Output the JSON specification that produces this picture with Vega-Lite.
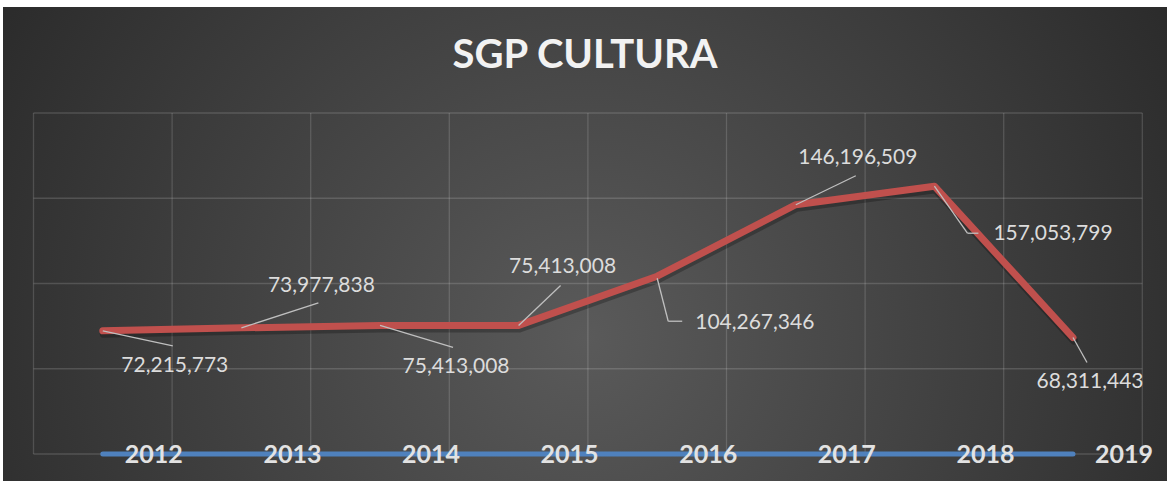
{
  "$schema": "https://vega.github.io/schema/vega-lite/v6.json",
  "width": 1164,
  "height": 474,
  "autosize": {"type": "none"},
  "padding": {"left": 3, "top": 7, "right": 0, "bottom": 0},
  "background": "#ffffff",
  "config": {"view": {"stroke": null}},
  "title": {"text": "SGP CULTURA", "font": "Lato", "fontSize": 40, "fontWeight": "bold", "color": "#f2f2f2", "anchor": "middle", "offset": -69},
  "datasets": {
    "main": [
      {"year": 2012, "value": 72215773},
      {"year": 2013, "value": 73977838},
      {"year": 2014, "value": 75413008},
      {"year": 2015, "value": 75413008},
      {"year": 2016, "value": 104267346},
      {"year": 2017, "value": 146196509},
      {"year": 2018, "value": 157053799},
      {"year": 2019, "value": 68311443}
    ],
    "hgrid": [{"v": 0}, {"v": 50000000}, {"v": 100000000}, {"v": 150000000}, {"v": 200000000}],
    "vgrid": [{"g": 2011.5}, {"g": 2012.5}, {"g": 2013.5}, {"g": 2014.5}, {"g": 2015.5}, {"g": 2016.5}, {"g": 2017.5}, {"g": 2018.5}, {"g": 2019.5}],
    "bg": [{"k": 1}]
  },
  "layer": [
    {
      "data": {"name": "bg"},
      "mark": {"type": "rect", "fill": {"gradient": "radial", "x1": 0.5, "y1": 0.58, "r1": 0, "x2": 0.5, "y2": 0.58, "r2": 0.64, "stops": [{"offset": 0, "color": "#5a5a5a"}, {"offset": 1, "color": "#262626"}]}},
      "encoding": {"x": {"value": 0}, "x2": {"value": "width"}, "y": {"value": 0}, "y2": {"value": "height"}}
    },
    {
      "data": {"name": "vgrid"},
      "mark": {"type": "rule", "stroke": "#ffffff", "strokeOpacity": 0.15, "strokeWidth": 1.3},
      "encoding": {
        "x": {"field": "g", "type": "quantitative", "scale": {"domain": [2011.2799, 2019.6782], "nice": false, "zero": false}, "axis": null},
        "y": {"datum": 0, "type": "quantitative", "scale": {"domain": [-15835777, 262170088], "nice": false, "zero": false}, "axis": null},
        "y2": {"datum": 200000000}
      }
    },
    {
      "data": {"name": "hgrid"},
      "mark": {"type": "rule", "stroke": "#ffffff", "strokeOpacity": 0.15, "strokeWidth": 1.3},
      "encoding": {
        "y": {"field": "v", "type": "quantitative", "scale": {"domain": [-15835777, 262170088], "nice": false, "zero": false}, "axis": null},
        "x": {"datum": 2011.5, "type": "quantitative", "scale": {"domain": [2011.2799, 2019.6782], "nice": false, "zero": false}, "axis": null},
        "x2": {"datum": 2019.5}
      }
    },
    {
      "data": {"name": "main"},
      "layer": [
        {
          "mark": {"type": "line", "stroke": "#4f81bd", "strokeWidth": 5, "strokeCap": "round"},
          "encoding": {
            "x": {"field": "year", "type": "quantitative", "scale": {"domain": [2011.2799, 2019.6782], "nice": false, "zero": false}, "axis": null},
            "y": {"datum": 0, "type": "quantitative", "scale": {"domain": [-15835777, 262170088], "nice": false, "zero": false}, "axis": null}
          }
        },
        {
          "mark": {"type": "line", "stroke": "#000000", "strokeOpacity": 0.25, "strokeWidth": 8, "strokeCap": "round", "strokeJoin": "round", "xOffset": 1, "yOffset": 3},
          "encoding": {
            "x": {"field": "year", "type": "quantitative", "scale": {"domain": [2011.2799, 2019.6782], "nice": false, "zero": false}, "axis": null},
            "y": {"field": "value", "type": "quantitative", "scale": {"domain": [-15835777, 262170088], "nice": false, "zero": false}, "axis": null}
          }
        },
        {
          "mark": {"type": "line", "stroke": "#c0504d", "strokeWidth": 7, "strokeCap": "round", "strokeJoin": "round"},
          "encoding": {
            "x": {"field": "year", "type": "quantitative", "scale": {"domain": [2011.2799, 2019.6782], "nice": false, "zero": false}, "axis": null},
            "y": {"field": "value", "type": "quantitative", "scale": {"domain": [-15835777, 262170088], "nice": false, "zero": false}, "axis": null}
          }
        },
        {
          "mark": {"type": "text", "font": "Lato", "fontSize": 25, "fontWeight": "bold", "fill": "#e2e2e2", "align": "center", "baseline": "middle", "dx": 51, "dy": 1},
          "encoding": {
            "x": {"field": "year", "type": "quantitative", "scale": {"domain": [2011.2799, 2019.6782], "nice": false, "zero": false}, "axis": null},
            "y": {"datum": 0, "type": "quantitative", "scale": {"domain": [-15835777, 262170088], "nice": false, "zero": false}, "axis": null},
            "text": {"field": "year", "type": "nominal"}
          }
        },
        {
          "transform": [{"filter": "datum.year == 2012"}],
          "encoding": {
            "x": {"field": "year", "type": "quantitative", "scale": {"domain": [2011.2799, 2019.6782], "nice": false, "zero": false}, "axis": null},
            "y": {"field": "value", "type": "quantitative", "scale": {"domain": [-15835777, 262170088], "nice": false, "zero": false}, "axis": null}
          },
          "layer": [
            {"mark": {"type": "rule", "stroke": "#bfbfbf", "strokeWidth": 1.3, "x2Offset": 70, "y2Offset": 15}, "encoding": {"x2": {"field": "year"}, "y2": {"field": "value"}}},
            {"mark": {"type": "text", "font": "Lato", "fontSize": 21, "fill": "#dcdcdc", "align": "center", "baseline": "middle", "dx": 72, "dy": 35}, "encoding": {"text": {"field": "value", "type": "quantitative", "format": ","}}}
          ]
        },
        {
          "transform": [{"filter": "datum.year == 2013"}],
          "encoding": {
            "x": {"field": "year", "type": "quantitative", "scale": {"domain": [2011.2799, 2019.6782], "nice": false, "zero": false}, "axis": null},
            "y": {"field": "value", "type": "quantitative", "scale": {"domain": [-15835777, 262170088], "nice": false, "zero": false}, "axis": null}
          },
          "layer": [
            {"mark": {"type": "rule", "stroke": "#bfbfbf", "strokeWidth": 1.3, "x2Offset": 77, "y2Offset": -25}, "encoding": {"x2": {"field": "year"}, "y2": {"field": "value"}}},
            {"mark": {"type": "text", "font": "Lato", "fontSize": 21, "fill": "#dcdcdc", "align": "center", "baseline": "middle", "dx": 80, "dy": -42}, "encoding": {"text": {"field": "value", "type": "quantitative", "format": ","}}}
          ]
        },
        {
          "transform": [{"filter": "datum.year == 2014"}],
          "encoding": {
            "x": {"field": "year", "type": "quantitative", "scale": {"domain": [2011.2799, 2019.6782], "nice": false, "zero": false}, "axis": null},
            "y": {"field": "value", "type": "quantitative", "scale": {"domain": [-15835777, 262170088], "nice": false, "zero": false}, "axis": null}
          },
          "layer": [
            {"mark": {"type": "rule", "stroke": "#bfbfbf", "strokeWidth": 1.3, "x2Offset": 73, "y2Offset": 22}, "encoding": {"x2": {"field": "year"}, "y2": {"field": "value"}}},
            {"mark": {"type": "text", "font": "Lato", "fontSize": 21, "fill": "#dcdcdc", "align": "center", "baseline": "middle", "dx": 76, "dy": 42}, "encoding": {"text": {"field": "value", "type": "quantitative", "format": ","}}}
          ]
        },
        {
          "transform": [{"filter": "datum.year == 2015"}],
          "encoding": {
            "x": {"field": "year", "type": "quantitative", "scale": {"domain": [2011.2799, 2019.6782], "nice": false, "zero": false}, "axis": null},
            "y": {"field": "value", "type": "quantitative", "scale": {"domain": [-15835777, 262170088], "nice": false, "zero": false}, "axis": null}
          },
          "layer": [
            {"mark": {"type": "rule", "stroke": "#bfbfbf", "strokeWidth": 1.3, "x2Offset": 42, "y2Offset": -40}, "encoding": {"x2": {"field": "year"}, "y2": {"field": "value"}}},
            {"mark": {"type": "text", "font": "Lato", "fontSize": 21, "fill": "#dcdcdc", "align": "center", "baseline": "middle", "dx": 44, "dy": -58}, "encoding": {"text": {"field": "value", "type": "quantitative", "format": ","}}}
          ]
        },
        {
          "transform": [{"filter": "datum.year == 2016"}],
          "encoding": {
            "x": {"field": "year", "type": "quantitative", "scale": {"domain": [2011.2799, 2019.6782], "nice": false, "zero": false}, "axis": null},
            "y": {"field": "value", "type": "quantitative", "scale": {"domain": [-15835777, 262170088], "nice": false, "zero": false}, "axis": null}
          },
          "layer": [
            {"mark": {"type": "rule", "stroke": "#bfbfbf", "strokeWidth": 1.3, "xOffset": 0, "yOffset": 2, "x2Offset": 11, "y2Offset": 45}, "encoding": {"x2": {"field": "year"}, "y2": {"field": "value"}}},
            {"mark": {"type": "rule", "stroke": "#bfbfbf", "strokeWidth": 1.3, "xOffset": 11, "yOffset": 45, "x2Offset": 25, "y2Offset": 45}, "encoding": {"x2": {"field": "year"}, "y2": {"field": "value"}}},
            {"mark": {"type": "text", "font": "Lato", "fontSize": 21, "fill": "#dcdcdc", "align": "left", "baseline": "middle", "dx": 38, "dy": 47}, "encoding": {"text": {"field": "value", "type": "quantitative", "format": ","}}}
          ]
        },
        {
          "transform": [{"filter": "datum.year == 2017"}],
          "encoding": {
            "x": {"field": "year", "type": "quantitative", "scale": {"domain": [2011.2799, 2019.6782], "nice": false, "zero": false}, "axis": null},
            "y": {"field": "value", "type": "quantitative", "scale": {"domain": [-15835777, 262170088], "nice": false, "zero": false}, "axis": null}
          },
          "layer": [
            {"mark": {"type": "rule", "stroke": "#bfbfbf", "strokeWidth": 1.3, "x2Offset": 60, "y2Offset": -29}, "encoding": {"x2": {"field": "year"}, "y2": {"field": "value"}}},
            {"mark": {"type": "text", "font": "Lato", "fontSize": 21, "fill": "#dcdcdc", "align": "center", "baseline": "middle", "dx": 62, "dy": -47}, "encoding": {"text": {"field": "value", "type": "quantitative", "format": ","}}}
          ]
        },
        {
          "transform": [{"filter": "datum.year == 2018"}],
          "encoding": {
            "x": {"field": "year", "type": "quantitative", "scale": {"domain": [2011.2799, 2019.6782], "nice": false, "zero": false}, "axis": null},
            "y": {"field": "value", "type": "quantitative", "scale": {"domain": [-15835777, 262170088], "nice": false, "zero": false}, "axis": null}
          },
          "layer": [
            {"mark": {"type": "rule", "stroke": "#bfbfbf", "strokeWidth": 1.3, "x2Offset": 33, "y2Offset": 47}, "encoding": {"x2": {"field": "year"}, "y2": {"field": "value"}}},
            {"mark": {"type": "rule", "stroke": "#bfbfbf", "strokeWidth": 1.3, "xOffset": 33, "yOffset": 47, "x2Offset": 44, "y2Offset": 47}, "encoding": {"x2": {"field": "year"}, "y2": {"field": "value"}}},
            {"mark": {"type": "text", "font": "Lato", "fontSize": 21, "fill": "#dcdcdc", "align": "left", "baseline": "middle", "dx": 59, "dy": 48}, "encoding": {"text": {"field": "value", "type": "quantitative", "format": ","}}}
          ]
        },
        {
          "transform": [{"filter": "datum.year == 2019"}],
          "encoding": {
            "x": {"field": "year", "type": "quantitative", "scale": {"domain": [2011.2799, 2019.6782], "nice": false, "zero": false}, "axis": null},
            "y": {"field": "value", "type": "quantitative", "scale": {"domain": [-15835777, 262170088], "nice": false, "zero": false}, "axis": null}
          },
          "layer": [
            {"mark": {"type": "rule", "stroke": "#bfbfbf", "strokeWidth": 1.3, "x2Offset": 14, "y2Offset": 25}, "encoding": {"x2": {"field": "year"}, "y2": {"field": "value"}}},
            {"mark": {"type": "text", "font": "Lato", "fontSize": 21, "fill": "#dcdcdc", "align": "center", "baseline": "middle", "dx": 17, "dy": 44}, "encoding": {"text": {"field": "value", "type": "quantitative", "format": ","}}}
          ]
        }
      ]
    }
  ]
}
